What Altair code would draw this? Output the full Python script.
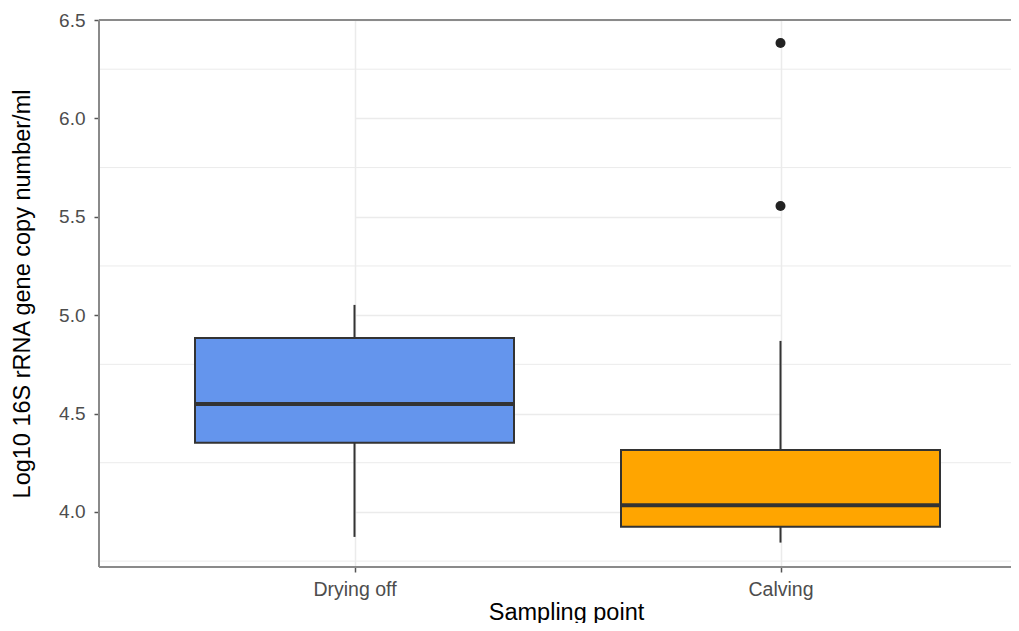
import altair as alt
import pandas as pd

# ---- data ----
categories = ["Drying off", "Calving"]
whisker_low = [3.873, 3.844]
q1 = [4.351, 3.925]
median = [4.549, 4.034]
q3 = [4.884, 4.315]
whisker_high = [5.052, 4.869]
fill_colors = ["#6495ED", "#FFA500"]

outlier_cat = ["Calving", "Calving"]
outlier_val = [6.383, 5.555]

y_ticks = [4.0, 4.5, 5.0, 5.5, 6.0, 6.5]
y_minor = [3.75, 4.25, 4.75, 5.25, 5.75, 6.25]
y_domain = [3.72, 6.5]

x_title = "Sampling point"
y_title = "Log10 16S rRNA gene copy number/ml"

# ---- layout ----
PAD_L, PAD_T, PAD_B = 91, 12, 56
W, H = 912, 547
FONT = "Liberation Sans"
BOX_W = 319
INK = "#333333"
GRID = "#EBEBEB"
BORDER = "#8a8a8a"

stats = pd.DataFrame({
    "category": categories,
    "low": whisker_low,
    "q1": q1,
    "median": median,
    "q3": q3,
    "high": whisker_high,
})
outliers = pd.DataFrame({"category": outlier_cat, "value": outlier_val})
minor = pd.DataFrame({"value": y_minor})
one = pd.DataFrame({"k": [0]})

x_scale = alt.Scale(type="point", domain=categories, padding=0, range=[255.5, 681.5])
y_scale = alt.Scale(domain=y_domain, nice=False, zero=False)

x_axis = alt.Axis(
    title=x_title, labelAngle=0, labelFont=FONT, labelFontSize=19.5,
    labelColor="#4D4D4D", labelPadding=8, tickSize=5, tickColor="#555555",
    tickWidth=1.5, domain=False, grid=True, gridColor=GRID, gridWidth=1.5,
    titleFont=FONT, titleFontSize=23.5, titleFontWeight="normal",
    titleColor="black", titleX=467, titleY=52, titleBaseline="alphabetic",
)
y_axis = alt.Axis(
    title=y_title, values=y_ticks, format=".1f", labelFont=FONT,
    labelFontSize=19, labelColor="#4D4D4D", labelPadding=9, tickSize=5,
    tickColor="#555555", tickWidth=1.5, domain=False, grid=True,
    gridColor=GRID, gridWidth=1.5, titleFont=FONT, titleFontSize=23.5,
    titleFontWeight="normal", titleColor="black", titleX=-69.5,
    titleY=H / 2, titleBaseline="alphabetic",
)

X = alt.X("category:N", scale=x_scale, axis=x_axis, sort=categories)

minor_grid = alt.Chart(minor).mark_rule(color=GRID, strokeWidth=1).encode(
    y=alt.Y("value:Q", scale=y_scale, axis=y_axis)
)

whiskers = alt.Chart(stats).mark_rule(color=INK, strokeWidth=2).encode(
    x=X,
    y=alt.Y("low:Q", scale=y_scale, axis=y_axis),
    y2="high:Q",
)

boxes = alt.Chart(stats).mark_bar(size=BOX_W, stroke=INK, strokeWidth=2).encode(
    x=X,
    y=alt.Y("q1:Q", scale=y_scale, axis=y_axis),
    y2="q3:Q",
    color=alt.Color("category:N", scale=alt.Scale(domain=categories, range=fill_colors), legend=None),
)

medians = alt.Chart(stats).mark_tick(size=BOX_W, thickness=4, color=INK, opacity=1).encode(
    x=X,
    y=alt.Y("median:Q", scale=y_scale, axis=y_axis),
)

points = alt.Chart(outliers).mark_circle(size=100, color="#222222", opacity=1).encode(
    x=X,
    y=alt.Y("value:Q", scale=y_scale, axis=y_axis),
)

top_border = alt.Chart(one).mark_rule(color=BORDER, strokeWidth=2).encode(
    x=alt.value(0), x2=alt.value(W), y=alt.value(0)
)
bottom_border = alt.Chart(one).mark_rule(color=BORDER, strokeWidth=2).encode(
    x=alt.value(0), x2=alt.value(W), y=alt.value(H)
)
left_border = alt.Chart(one).mark_rule(color=BORDER, strokeWidth=2).encode(
    x=alt.value(0), y=alt.value(0), y2=alt.value(H)
)

chart = alt.layer(
    minor_grid, whiskers, boxes, medians, points,
    top_border, bottom_border, left_border,
).properties(
    width=W, height=H,
    autosize=alt.AutoSizeParams(type="none"),
    padding={"left": PAD_L, "top": PAD_T, "right": 0, "bottom": PAD_B},
    background="white",
).configure_view(stroke=None)

chart.save("out.html", embed_options={"renderer": "svg", "actions": False})
